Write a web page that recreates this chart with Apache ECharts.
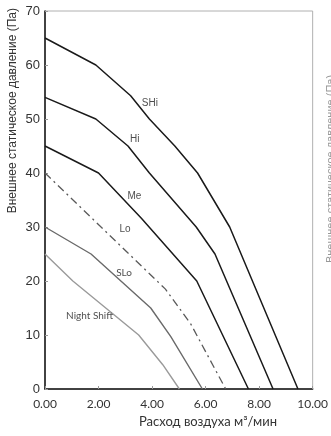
<!DOCTYPE html>
<html>
<head>
<meta charset="utf-8">
<script src="https://cdn.jsdelivr.net/npm/echarts@6/dist/echarts.min.js"></script>
<style>
html,body{margin:0;padding:0;background:#fff;}
#chart{width:331px;height:436px;}
</style>
</head>
<body>
<div id="chart"></div>
<script>
// Curve data: [airflow m3/min, static pressure Pa]
const shi = [[0,65],[1.9,60],[3.2,54.3],[3.9,50],[4.85,45],[5.7,40],[6.9,30],[9.45,0]];
const hi = [[0,54],[1.9,50],[3.1,45],[3.9,40],[5.65,30],[6.35,25],[8.52,0]];
const me = [[0,45],[2,40],[3.6,31.6],[5.67,20],[7.6,0]];
const lo = [[0,40],[4.5,18.5],[5.45,12],[6.75,0]];
const slo = [[0,30],[1.72,25],[3.95,15],[4.7,9.7],[5.88,0]];
const night = [[0,25],[1.04,20],[3.5,10],[4.4,4.5],[5.02,0]];

const labelNames = ['SHi','Hi','Me','Lo','SLo','Night Shift'];
const labelX = [3.6,3.16,3.06,2.76,2.64,0.77];
const labelY = [53,46.3,35.7,29.6,21.5,13.6];

const xTicks = [0,2,4,6,8,10];
const yTicks = [0,10,20,30,40,50,60,70];

const yName = 'Внешнее статическое давление (Па)';
const xName = 'Расход воздуха м³/мин';

const chart = echarts.init(document.getElementById('chart'), null, {renderer:'canvas'});

function lineSeries(data, color, width, type) {
  return {
    type: 'line', data: data, symbol: 'none', silent: true,
    lineStyle: {color: color, width: width, type: type || 'solid'},
    z: 3
  };
}

const labelFonts = ['Liberation Sans','Liberation Sans','Liberation Sans','Liberation Sans','Lato','Lato'];

chart.setOption({
  animation: false,
  backgroundColor: '#fff',
  grid: {left: 45, right: 14, top: 11, bottom: 47, show: true, borderColor: '#b0b0b0', borderWidth: 1, backgroundColor: 'transparent'},
  xAxis: {
    type: 'value', min: xTicks[0], max: xTicks[xTicks.length-1], interval: 2,
    axisLine: {show: true, lineStyle: {color: '#111', width: 1.5}},
    axisTick: {show: true, inside: true, length: 3, lineStyle: {color: '#999'}},
    splitLine: {show: false},
    axisLabel: {color: '#333', fontFamily: 'Lato', fontSize: 12, margin: 9, formatter: v => v.toFixed(2)}
  },
  yAxis: {
    type: 'value', min: yTicks[0], max: yTicks[yTicks.length-1], interval: 10,
    axisLine: {show: true, lineStyle: {color: '#111', width: 1.5}},
    axisTick: {show: true, inside: true, length: 3, lineStyle: {color: '#999'}},
    splitLine: {show: false},
    axisLabel: {color: '#333', fontFamily: 'Liberation Sans', fontSize: 13, margin: 5}
  },
  graphic: [
    {type: 'text', left: 7, top: 8, rotation: Math.PI/2,
     style: {text: yName, fill: '#333', font: '12px "Liberation Sans"'}},
    {type: 'text', x: 208, y: 422,
     style: {text: xName, fill: '#333', font: '13px Lato', align: 'center', verticalAlign: 'middle'}},
    {type: 'text', x: 325, y: 169, rotation: Math.PI/2,
     style: {text: yName, fill: '#999', font: '11px "Liberation Sans"', align: 'center', verticalAlign: 'top'}}
  ],
  series: [
    lineSeries(shi, '#1a1a1a', 1.5),
    lineSeries(hi, '#1a1a1a', 1.5),
    lineSeries(me, '#1a1a1a', 1.5),
    lineSeries(lo, '#5a5a5a', 1.3, [8,4,2,4]),
    lineSeries(slo, '#6a6a6a', 1.4),
    lineSeries(night, '#9a9a9a', 1.4),
    {
      type: 'scatter', symbolSize: 1, silent: true, z: 5,
      itemStyle: {color: 'rgba(0,0,0,0)'},
      data: labelNames.map((n,i) => ({
        value: [labelX[i], labelY[i]],
        label: {show: true, formatter: n, position: 'right', distance: 0,
                color: '#222', fontSize: 10, fontFamily: labelFonts[i]}
      }))
    }
  ]
});
</script>
</body>
</html>
